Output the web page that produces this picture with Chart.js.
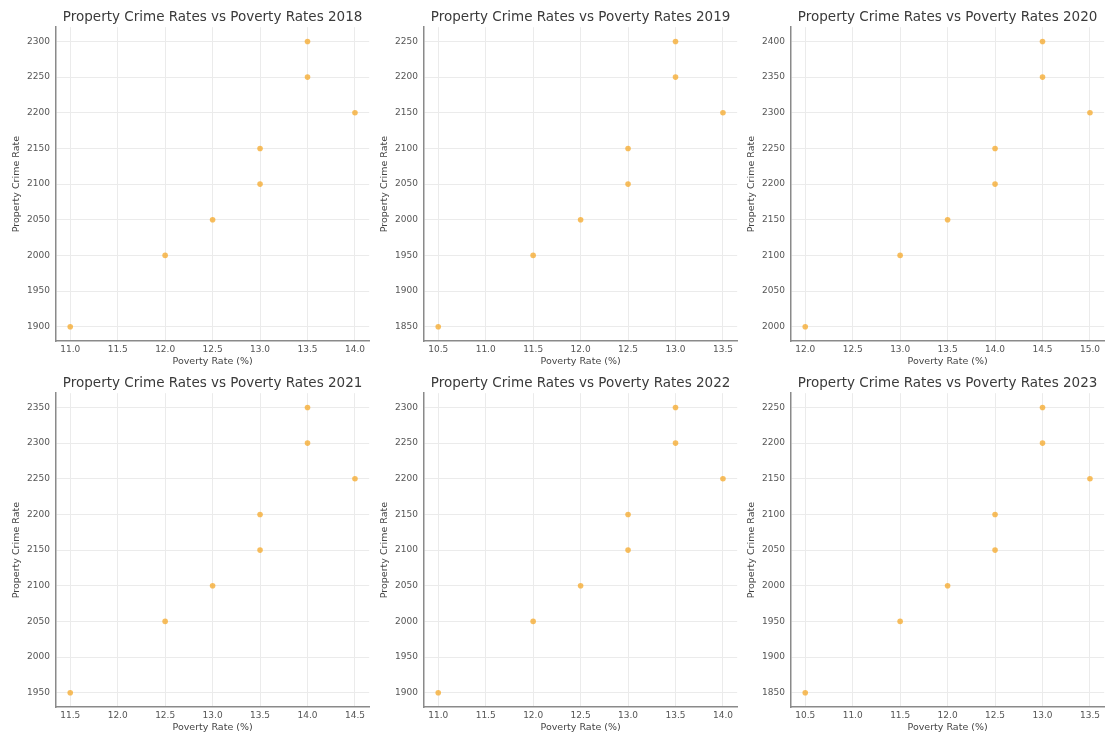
<!DOCTYPE html>
<html>
<head>
<meta charset="utf-8">
<script src="https://cdn.jsdelivr.net/npm/chart.js@4.4.1/dist/chart.umd.min.js"></script>
<style>
  body { margin: 0; background: #fff; width: 1105px; height: 733px; overflow: hidden; position: relative; }
  .panel { position: absolute; width: 372px; height: 367px; }
  .panel canvas { display: block; }
</style>
</head>
<body>
<div class="panel" style="left:0px;top:0px"><canvas id="c2018"></canvas></div>
<div class="panel" style="left:368px;top:0px"><canvas id="c2019"></canvas></div>
<div class="panel" style="left:735px;top:0px"><canvas id="c2020"></canvas></div>
<div class="panel" style="left:0px;top:366px"><canvas id="c2021"></canvas></div>
<div class="panel" style="left:368px;top:366px"><canvas id="c2022"></canvas></div>
<div class="panel" style="left:735px;top:366px"><canvas id="c2023"></canvas></div>
<script>
// datos (tasa de pobreza % / tasa de delitos contra la propiedad)
const years = [2018, 2019, 2020, 2021, 2022, 2023];

const poverty2018 = [11.0, 12.0, 12.5, 13.0, 13.0, 13.5, 13.5, 14.0];
const crime2018   = [1900, 2000, 2050, 2100, 2150, 2250, 2300, 2200];

const poverty2019 = [10.5, 11.5, 12.0, 12.5, 12.5, 13.0, 13.0, 13.5];
const crime2019   = [1850, 1950, 2000, 2050, 2100, 2200, 2250, 2150];

const poverty2020 = [12.0, 13.0, 13.5, 14.0, 14.0, 14.5, 14.5, 15.0];
const crime2020   = [2000, 2100, 2150, 2200, 2250, 2350, 2400, 2300];

const poverty2021 = [11.5, 12.5, 13.0, 13.5, 13.5, 14.0, 14.0, 14.5];
const crime2021   = [1950, 2050, 2100, 2150, 2200, 2300, 2350, 2250];

const poverty2022 = [11.0, 12.0, 12.5, 13.0, 13.0, 13.5, 13.5, 14.0];
const crime2022   = [1900, 2000, 2050, 2100, 2150, 2250, 2300, 2200];

const poverty2023 = [10.5, 11.5, 12.0, 12.5, 12.5, 13.0, 13.0, 13.5];
const crime2023   = [1850, 1950, 2000, 2050, 2100, 2200, 2250, 2150];

const povertyByYear = [poverty2018, poverty2019, poverty2020, poverty2021, poverty2022, poverty2023];
const crimeByYear   = [crime2018, crime2019, crime2020, crime2021, crime2022, crime2023];

const FONT = "'DejaVu Sans', sans-serif";

function makeChart(year, xs, ys) {
    const xmin = Math.min(...xs), xmax = Math.max(...xs);
    const ymin = Math.min(...ys), ymax = Math.max(...ys);
    const xm = (xmax - xmin) * 0.05, ym = (ymax - ymin) * 0.05;

    const canvas = document.getElementById('c' + year);
    canvas.width = 372;
    canvas.height = 367;

    new Chart(canvas.getContext('2d'), {
        type: 'scatter',
        data: {
            datasets: [{
                data: xs.map((x, i) => ({ x: x, y: ys[i] })),
                backgroundColor: 'rgba(245, 168, 40, 0.75)',
                borderWidth: 0,
                pointRadius: 2.8,
                pointHoverRadius: 2.8
            }]
        },
        options: {
            responsive: false,
            animation: false,
            layout: { padding: { left: 0, right: 1, top: 0, bottom: 0 } },
            plugins: {
                legend: { display: false },
                tooltip: { enabled: false },
                title: {
                    display: true,
                    text: 'Property Crime Rates vs Poverty Rates ' + year,
                    fullSize: false,
                    color: '#3a3a3a',
                    font: { family: FONT, size: 13.5, weight: 'normal' },
                    padding: { top: 9, bottom: 2 }
                }
            },
            scales: {
                x: {
                    type: 'linear',
                    min: xmin - xm,
                    max: xmax + xm,
                    afterBuildTicks: s => {
                        const t = [];
                        for (let v = Math.ceil(s.min * 2) / 2; v <= s.max + 1e-9; v += 0.5) t.push({ value: v });
                        s.ticks = t;
                    },
                    afterFit: s => { s.height = 26; },
                    border: { display: true, color: '#8a8a8a', width: 1.5 },
                    grid: { color: '#ebebeb', lineWidth: 1, drawTicks: false },
                    ticks: {
                        color: '#555',
                        font: { family: FONT, size: 9 },
                        padding: 3,
                        maxRotation: 0,
                        callback: v => v.toFixed(1)
                    },
                    title: {
                        display: true,
                        text: 'Poverty Rate (%)',
                        color: '#444',
                        font: { family: FONT, size: 9.5 },
                        padding: { top: 0, bottom: 0 }
                    }
                },
                y: {
                    type: 'linear',
                    min: ymin - ym,
                    max: ymax + ym,
                    afterBuildTicks: s => {
                        const t = [];
                        for (let v = Math.ceil(s.min / 50) * 50; v <= s.max + 1e-9; v += 50) t.push({ value: v });
                        s.ticks = t;
                    },
                    afterFit: s => { s.width = 56; },
                    border: { display: true, color: '#8a8a8a', width: 1.5 },
                    grid: { color: '#ebebeb', lineWidth: 1, drawTicks: false },
                    ticks: {
                        color: '#555',
                        font: { family: FONT, size: 9 },
                        padding: 6,
                        callback: v => String(v)
                    },
                    title: {
                        display: true,
                        text: 'Property Crime Rate',
                        color: '#444',
                        font: { family: FONT, size: 9.5 },
                        padding: { top: 11, bottom: 0 }
                    }
                }
            }
        }
    });
}

years.forEach((yr, i) => makeChart(yr, povertyByYear[i], crimeByYear[i]));
</script>
</body>
</html>
